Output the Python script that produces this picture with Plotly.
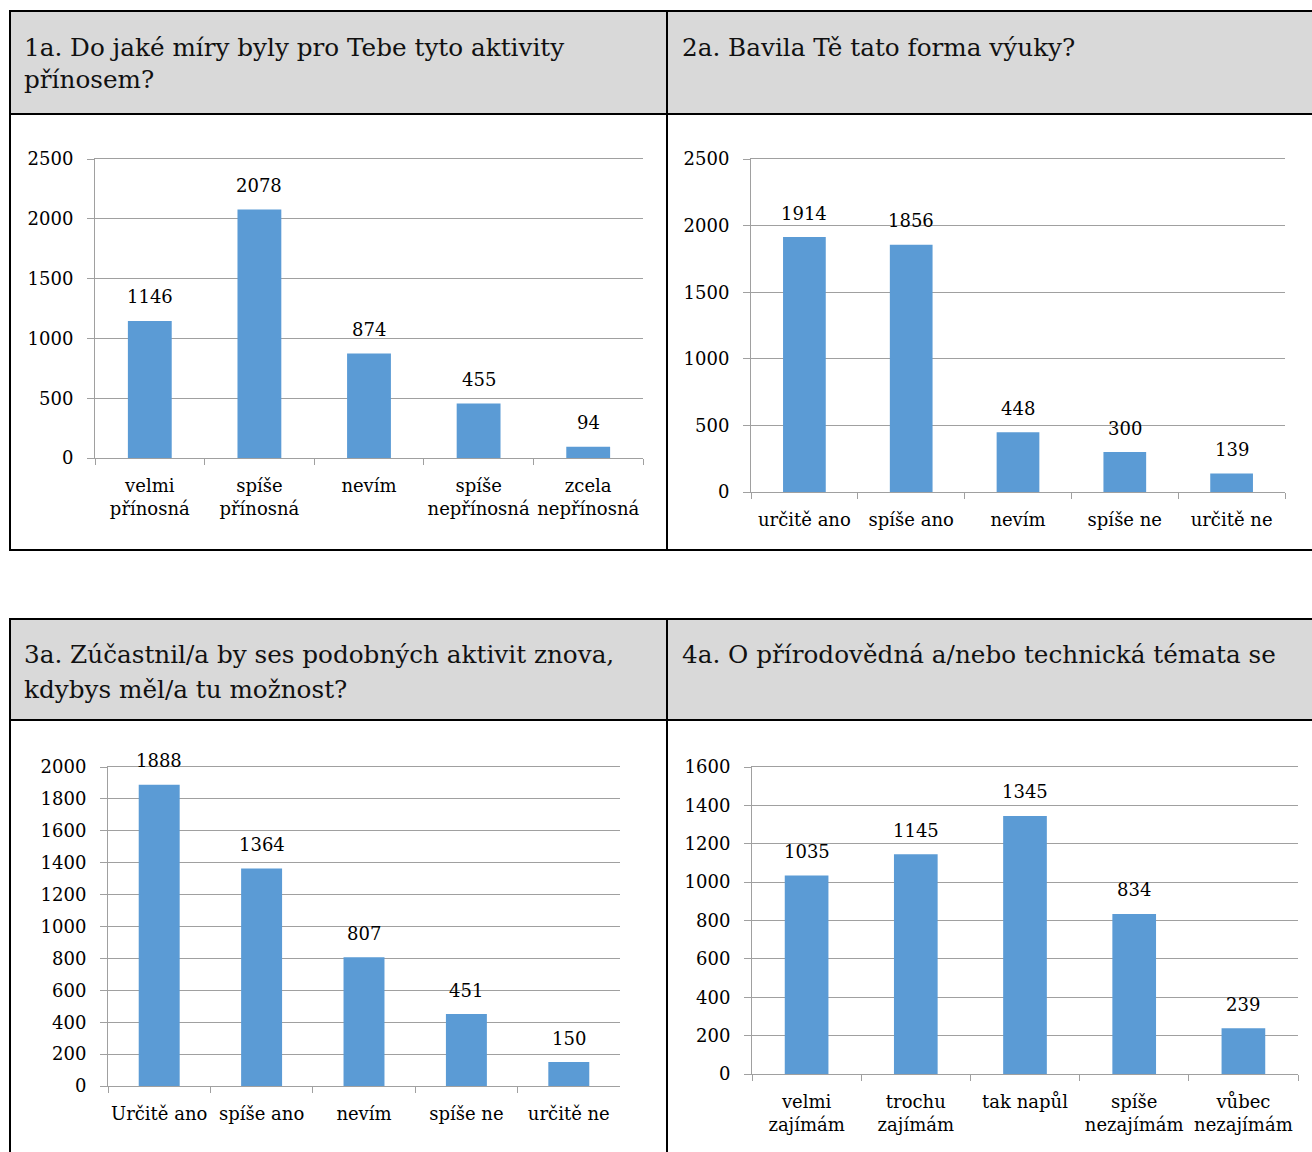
import plotly.graph_objects as go

# ---------------- data ----------------
cats_1a = ["velmi<br>přínosná", "spíše<br>přínosná", "nevím", "spíše<br>nepřínosná", "zcela<br>nepřínosná"]
vals_1a = [1146, 2078, 874, 455, 94]

cats_2a = ["určitě ano", "spíše ano", "nevím", "spíše ne", "určitě ne"]
vals_2a = [1914, 1856, 448, 300, 139]

cats_3a = ["Určitě ano", "spíše ano", "nevím", "spíše ne", "určitě ne"]
vals_3a = [1888, 1364, 807, 451, 150]

cats_4a = ["velmi<br>zajímám", "trochu<br>zajímám", "tak napůl", "spíše<br>nezajímám", "vůbec<br>nezajímám"]
vals_4a = [1035, 1145, 1345, 834, 239]

title_1a = ["1a. Do jaké míry byly pro Tebe tyto aktivity", "přínosem?"]
title_2a = ["2a. Bavila Tě tato forma výuky?"]
title_3a = ["3a. Zúčastnil/a by ses podobných aktivit znova,", "kdybys měl/a tu možnost?"]
title_4a = ["4a. O přírodovědná a/nebo technická témata se"]

# ---------------- layout helpers ----------------
W, H = 1312, 1152
def px(x):
    return x / W
def py(y):
    return 1 - y / H

FONT = "DejaVu Serif"
BAR = "#5B9BD5"
GRID = "#a0a0a0"

charts = [
    # cats, vals, (x0,x1) px, (y_zero, y_top) px, ymax, dtick
    (cats_1a, vals_1a, (95, 643), (458, 159), 2500, 500),
    (cats_2a, vals_2a, (751, 1285), (492, 159), 2500, 500),
    (cats_3a, vals_3a, (108, 620), (1086, 767), 2000, 200),
    (cats_4a, vals_4a, (752, 1298), (1074, 767), 1600, 200),
]

fig = go.Figure()
layout = {}
annotations = []

for i, (cats, vals, (x0, x1), (yz, yt), ymax, dt) in enumerate(charts):
    n = "" if i == 0 else str(i + 1)
    xa, ya = "x" + n, "y" + n
    fig.add_trace(go.Bar(x=cats, y=vals, xaxis=xa, yaxis=ya, width=0.4,
                         marker=dict(color=BAR, line=dict(width=0)),
                         showlegend=False, hoverinfo="x+y"))
    layout["xaxis" + n] = dict(
        domain=[px(x0), px(x1)], anchor=ya, type="category",
        range=[-0.5, len(cats) - 0.5], automargin=False,
        showline=True, linecolor=GRID, linewidth=1, mirror=True,
        ticks="outside", tickson="boundaries", ticklen=6, tickcolor=GRID,
        showgrid=False, tickangle=0,
        tickfont=dict(family=FONT, size=18, color="black"),
        ticklabelstandoff=11,
    )
    layout["yaxis" + n] = dict(
        domain=[py(yz), py(yt)], anchor=xa, range=[0, ymax], automargin=False,
        tick0=0, dtick=dt, showgrid=True, gridcolor=GRID, gridwidth=1,
        showline=True, linecolor=GRID, linewidth=1, zeroline=False,
        ticks="outside", ticklen=7, tickcolor=GRID,
        ticklabelstandoff=10,
        tickfont=dict(family=FONT, size=18, color="black"),
    )
    for c, v in zip(cats, vals):
        annotations.append(dict(
            x=c, y=v, xref=xa, yref=ya, text=str(v), showarrow=False,
            yanchor="middle", xanchor="center", yshift=24,
            font=dict(family=FONT, size=18, color="black")))

# header titles
def add_title(lines, x, ys):
    for line, y in zip(lines, ys):
        annotations.append(dict(
            x=px(x), y=py(y), xref="paper", yref="paper", text=line,
            showarrow=False, xanchor="left", yanchor="middle",
            font=dict(family=FONT, size=24.7, color="#111111")))

add_title(title_1a, 22, [47, 80])
add_title(title_2a, 680, [47])
add_title(title_3a, 22, [654, 689])
add_title(title_4a, 680, [654])

# table shapes
shapes = []
def rect(x0, y0, x1, y1, fill):
    shapes.append(dict(type="rect", xref="paper", yref="paper",
                       x0=px(x0), x1=px(x1), y0=py(y0), y1=py(y1),
                       fillcolor=fill, line=dict(width=0), layer="below"))
def line(x0, y0, x1, y1, w=2):
    shapes.append(dict(type="line", xref="paper", yref="paper",
                       x0=px(x0), x1=px(x1), y0=py(y0), y1=py(y1),
                       line=dict(color="black", width=w), layer="above"))

# top table
rect(10, 11, 1330, 114, "#d9d9d9")
line(9, 11, 1330, 11)
line(10, 114, 1330, 114)
line(9, 550, 1330, 550)
line(10, 11, 10, 550)
line(667, 11, 667, 550)
# bottom table
rect(10, 619, 1330, 720, "#d9d9d9")
line(9, 619, 1330, 619)
line(10, 720, 1330, 720)
line(10, 619, 10, 1170)
line(667, 619, 667, 1170)

fig.update_layout(
    width=W, height=H, margin=dict(l=0, r=0, t=0, b=0, pad=0, autoexpand=False),
    paper_bgcolor="white", plot_bgcolor="rgba(0,0,0,0)",
    bargap=0.6, annotations=annotations, shapes=shapes,
    font=dict(family=FONT, color="black"),
    **layout,
)

fig.write_html("out.html")
